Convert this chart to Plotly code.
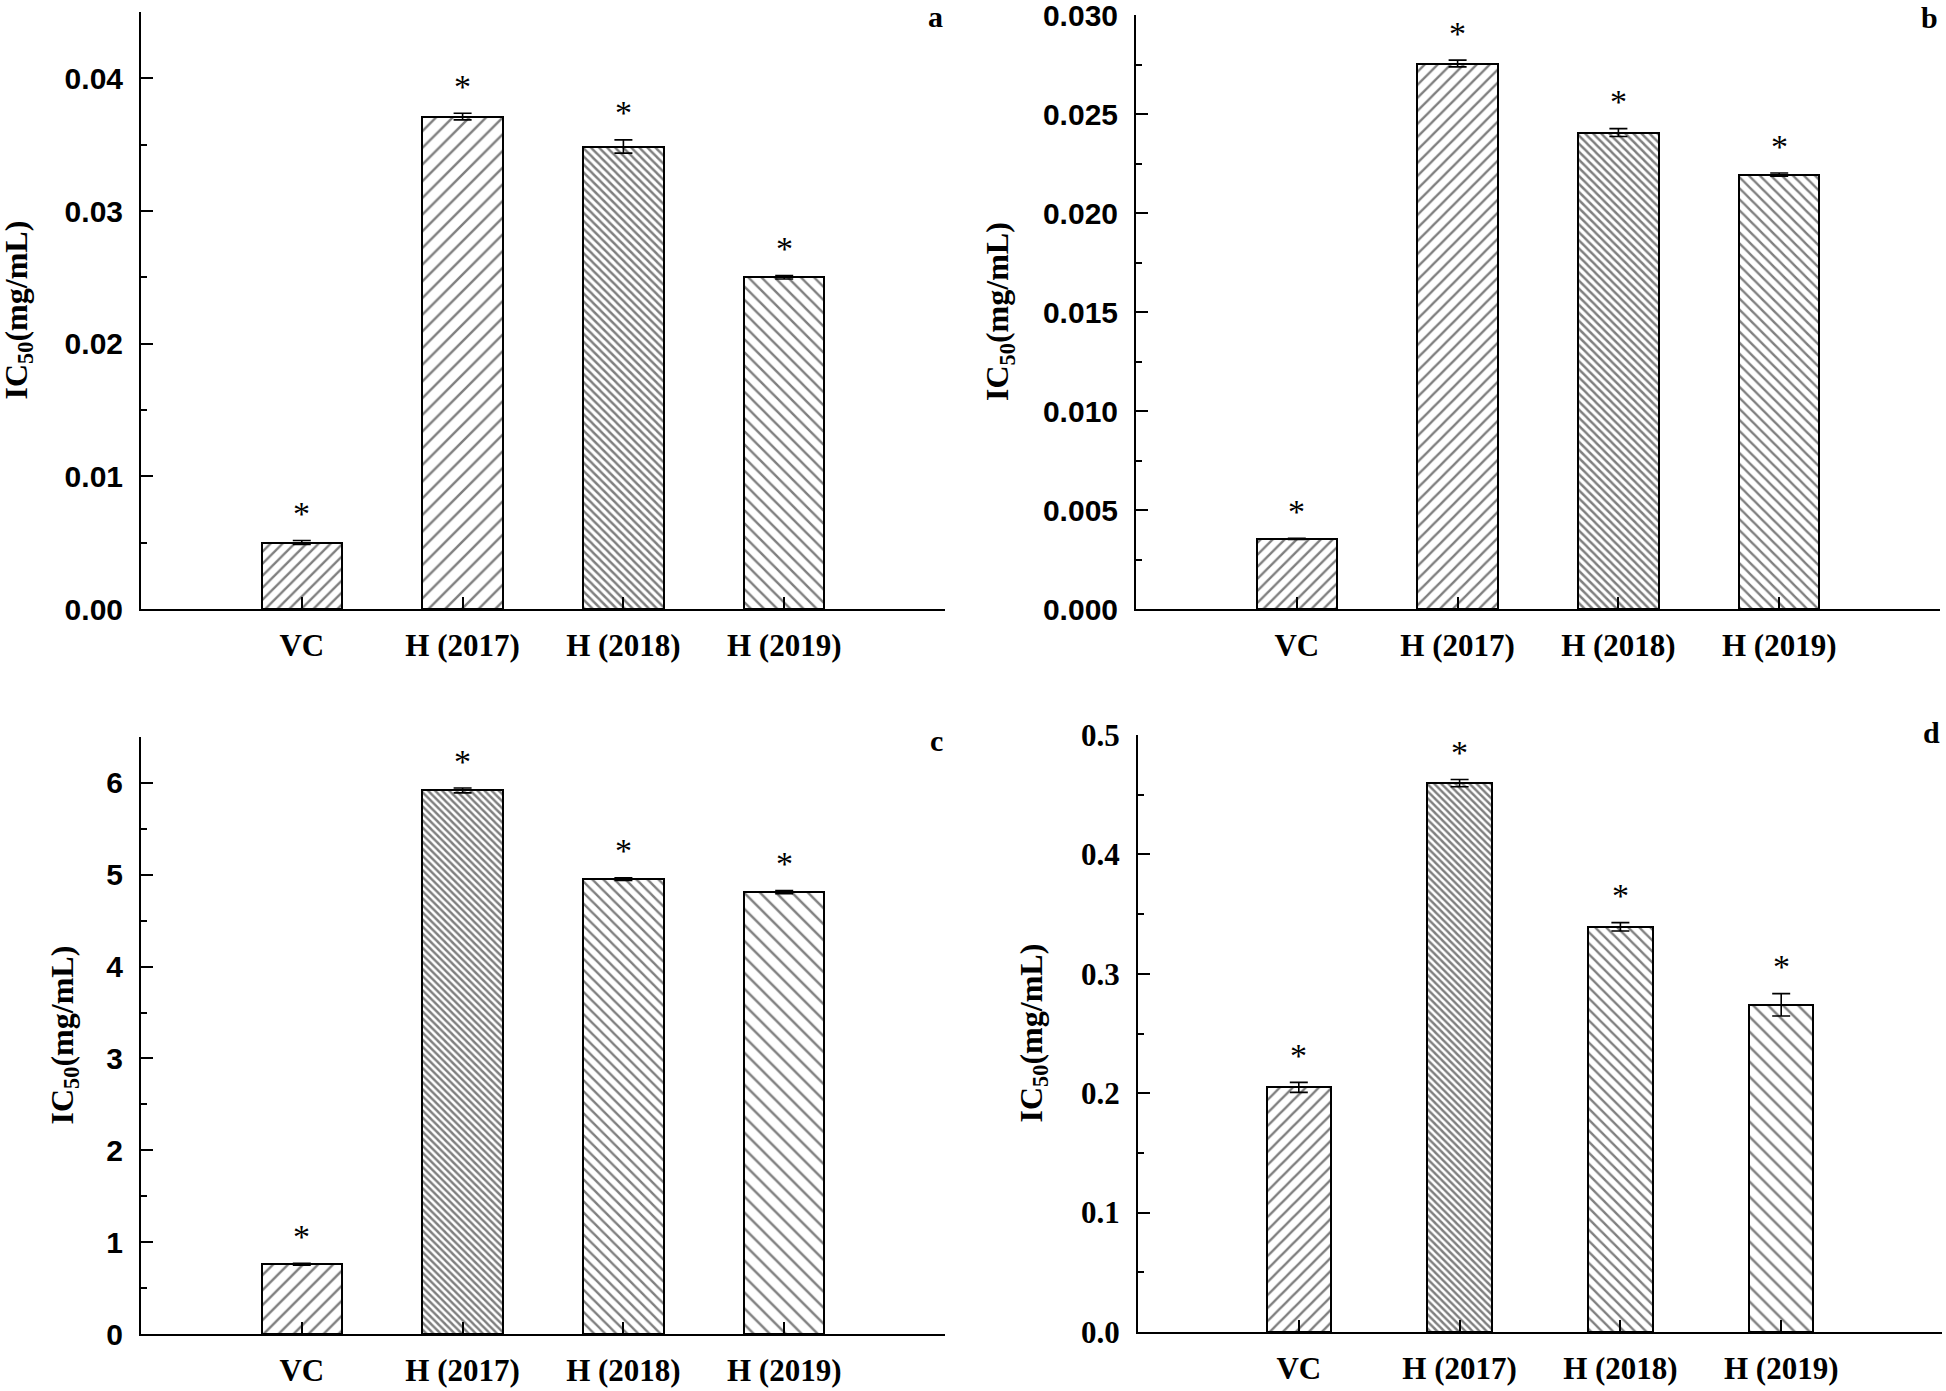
import plotly.graph_objects as go

# ---------------- data ----------------
categories = ["VC", "H (2017)", "H (2018)", "H (2019)"]

ic50_a = [0.00501, 0.03712, 0.03486, 0.02501]
err_a = [0.00015, 0.00025, 0.00050, 0.00013]

ic50_b = [0.00354, 0.02755, 0.02406, 0.02194]
err_b = [0.00003, 0.00017, 0.00020, 0.00008]

ic50_c = [0.76, 5.918, 4.952, 4.812]
err_c = [0.010, 0.026, 0.014, 0.017]

ic50_d = [0.2049, 0.4597, 0.3394, 0.2740]
err_d = [0.0042, 0.0030, 0.0035, 0.0094]

panel_labels = ["a", "b", "c", "d"]
significance = ["*", "*", "*", "*"]
y_title = "IC<sub>50</sub>(mg/mL)"

# ---------------- styles ----------------
W, H = 1946, 1391
SANS = "Liberation Sans, Arial, sans-serif"
SERIF = "Liberation Serif, Times New Roman, serif"

panels = [
    dict(vals=ic50_a, errs=err_a, xd=(141, 945), yd=(12, 609), yr=(0, 0.045),
         dtick=0.01, minor=0.005, fmt=".2f", tfont=SANS, tsize=30, bw=0.5,
         shapes=["/", "/", "\\", "\\"], sizes=[8.5, 11.8, 5.7, 9.3], tx=-123, ly=-5),
    dict(vals=ic50_b, errs=err_b, xd=(1136, 1940), yd=(15, 609), yr=(0, 0.0300001),
         dtick=0.005, minor=0.0025, fmt=".3f", tfont=SANS, tsize=30, bw=0.5,
         shapes=["/", "/", "\\", "\\"], sizes=[8.5, 9.2, 5.7, 7.8], tx=-137, ly=-2),
    dict(vals=ic50_c, errs=err_c, xd=(141, 945), yd=(737, 1334), yr=(0, 6.5),
         dtick=1, minor=0.5, fmt="d", tfont=SANS, tsize=30, bw=0.5,
         shapes=["/", "\\", "\\", "\\"], sizes=[10.6, 5.0, 7.8, 11.3], tx=-77, ly=-3),
    dict(vals=ic50_d, errs=err_d, xd=(1138, 1942), yd=(735, 1332), yr=(0, 0.5000001),
         dtick=0.1, minor=0.05, fmt=".1f", tfont=SERIF, tsize=31, bw=0.4,
         shapes=["/", "\\", "\\", "\\"], sizes=[9.2, 5.0, 7.8, 10.6], tx=-105, ly=2),
]

fig = go.Figure()
layout = dict(width=W, height=H, autosize=False,
              margin=dict(l=0, r=0, t=0, b=0, autoexpand=False),
              paper_bgcolor="white", plot_bgcolor="white",
              showlegend=False, bargap=0)
annotations = []
xpos = list(range(len(categories)))

for k, p in enumerate(panels):
    n = "" if k == 0 else str(k + 1)
    xa, ya = "x" + n, "y" + n
    fig.add_trace(go.Bar(
        x=xpos, y=p["vals"], width=p["bw"], xaxis=xa, yaxis=ya,
        marker=dict(color="white", line=dict(color="black", width=2),
                    pattern=dict(shape=p["shapes"], size=p["sizes"],
                                 solidity=[2.4 / s for s in p["sizes"]],
                                 fgcolor="black", bgcolor="white")),
        error_y=dict(type="data", array=p["errs"], visible=True,
                     color="black", thickness=1.6, width=9),
        hoverinfo="skip", showlegend=False))

    layout["xaxis" + n] = dict(
        domain=[p["xd"][0] / W, p["xd"][1] / W], anchor=ya, automargin=False,
        range=[-1, len(categories)], tickmode="array",
        tickvals=[-1] + xpos + [len(categories)],
        ticktext=[""] + categories + [""],
        ticks="inside", ticklen=12, tickwidth=1.5, tickcolor="black",
        showline=True, linecolor="black", linewidth=2,
        showgrid=False, zeroline=False, ticklabelstandoff=8,
        ticklabeloverflow="allow",
        tickfont=dict(family=SERIF, size=31, color="black", weight="bold"))
    layout["yaxis" + n] = dict(
        domain=[1 - p["yd"][1] / H, 1 - p["yd"][0] / H], anchor=xa, automargin=False,
        range=list(p["yr"]), tickmode="linear", tick0=0, dtick=p["dtick"],
        tickformat=p["fmt"],
        ticks="inside", ticklen=12, tickwidth=1.5, tickcolor="black",
        minor=dict(ticks="inside", ticklen=6, tickwidth=1.5, tickcolor="black",
                   dtick=p["minor"], tick0=0, showgrid=False),
        showline=True, linecolor="black", linewidth=2,
        showgrid=False, zeroline=False, ticklabelstandoff=10,
        ticklabeloverflow="allow",
        tickfont=dict(family=p["tfont"], size=p["tsize"], color="black", weight="bold"))

    for i, (v, e) in enumerate(zip(p["vals"], p["errs"])):
        annotations.append(dict(
            x=xpos[i], y=v + e, xref=xa, yref=ya, text=significance[i],
            showarrow=False, xanchor="center", yanchor="middle", yshift=27,
            font=dict(family=SERIF, size=34, color="black")))

    annotations.append(dict(
        x=1, y=1, xref=xa + " domain", yref=ya + " domain", text=panel_labels[k],
        showarrow=False, xanchor="right", yanchor="middle", yshift=p["ly"],
        font=dict(family=SERIF, size=30, color="black", weight="bold")))

    annotations.append(dict(
        x=0, y=0.5, xref=xa + " domain", yref=ya + " domain", text=y_title,
        showarrow=False, xanchor="center", yanchor="middle", xshift=p["tx"],
        textangle=-90,
        font=dict(family=SERIF, size=32, color="black", weight="bold")))

layout["annotations"] = annotations
fig.update_layout(**layout)
fig.write_html("out.html", config={"displayModeBar": False},
               post_script="document.body.style.margin='0px';")
